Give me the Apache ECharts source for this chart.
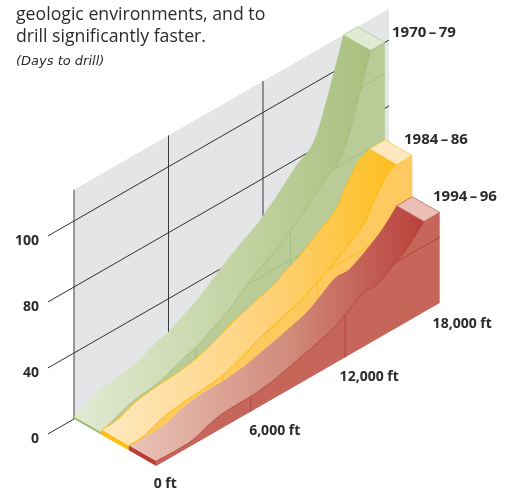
<!DOCTYPE html>
<html><head><meta charset="utf-8">
<style>html,body{margin:0;padding:0;background:#fff}#c{width:514px;height:489px}</style>
<script src="https://cdn.jsdelivr.net/npm/echarts@6/dist/echarts.min.js"></script>
</head><body><div id="c"></div>
<script>
const ribbonNames = ['1970\u2009–\u200979', '1984\u2009–\u200986', '1994\u2009–\u200996'];
const depths1970 = [0,1840,3750,5250,6000,7150,8000,9250,10500,11500,12000,12800,13500,14200,15000,15600,16500,17100,18000];
const days1970   = [1.5,8.7,12,18,20,26,30.5,40,48,53.6,57.5,64,70.7,77,82,93,120,139,139];
const depths1984 = [0,700,1300,2200,3500,4800,6000,7500,8100,9600,10900,12000,12700,13900,14900,15500,16300,17000,18000];
const days1984   = [3,3,4.5,8,10,11,13,18.5,21.5,26.6,30.8,36.5,40,48,55,65,76,80,80];
const depths1994 = [0,1100,2300,3400,4400,6000,6400,7700,11000,12000,13100,14000,15200,16100,17000,18000];
const days1994   = [3,2.5,3,6.8,8.8,9.2,9.6,11.7,20.8,26,32.7,33,39.7,46,55,55];
const tickValues = [0,40,80,120];
const tickLabels = ['0','40','80','100'];
const depthTicks = [0,6000,12000,18000];
const depthLabels = ['0 ft','6,000 ft','12,000 ft','18,000 ft'];
const titleLines = ['geologic environments, and to','drill significantly faster.'];
const unitLabel = '(Days to drill)';
const wallTop = 139, wallEnd = 20000, tickStart = -1650;

const ribbons = [
 {d:depths1970,v:days1970,side:'#b9cb97',stroke:'#a5bd7b',back:null,cap:'#a3bd78',top:'#e0e9d2',
  grad:['#e2ead3','#c3d3a3','#a8c07e'],lx:392,ly:33},
 {d:depths1984,v:days1984,side:'#fec95e',stroke:'#fdbe14',back:'#fdbe14',cap:'#fdbe10',top:'#fde7c0',
  grad:['#fee9c0','#fed27c','#fdbe1e'],lx:404,ly:140},
 {d:depths1994,v:days1994,side:'#c6655a',stroke:'#b8403c',back:null,cap:'#bb3b35',top:'#e9bfb6',
  grad:['#eac4b8','#d08a7a','#b93f3a'],lx:433,ly:197}
];
const WX=27.4, WY=15.67, SHEAR=54.3/6000;
function project(api,d,v,w){
  const c=api.coord([d,v]);
  return [c[0]+w*WX, c[1]-d*SHEAR+w*WY];
}
function spline(pts,segs){
  const out=[pts[0]];
  for(let i=0;i<pts.length-1;i++){
    const p0=pts[Math.max(i-1,0)],p1=pts[i],p2=pts[i+1],p3=pts[Math.min(i+2,pts.length-1)];
    for(let s=1;s<=segs;s++){
      const t=s/segs,t2=t*t,t3=t2*t;
      out.push([0,1].map(k=>0.5*(2*p1[k]+(p2[k]-p0[k])*t+(2*p0[k]-5*p1[k]+4*p2[k]-p3[k])*t2+(3*p1[k]-p0[k]-3*p2[k]+p3[k])*t3)));
    }
  }
  return out;
}
function profile(r){
  const n=r.d.length;
  const raw=r.d.slice(0,n-1).map((d,i)=>[d,r.v[i]]);
  const s=spline(raw,5);
  s.push([r.d[n-1],r.v[n-1]]);
  return s;
}
function renderWall(params,api){
  const ch=[];
  const poly=[project(api,0,0,0),project(api,wallEnd,0,0),project(api,wallEnd,wallTop,0),project(api,0,wallTop,0)];
  ch.push({type:'polygon',shape:{points:poly},style:{fill:'#e4e5e7'}});
  depthTicks.slice(0,3).forEach(d=>{
    const a=project(api,d,0,0),b=project(api,d,wallTop,0);
    ch.push({type:'line',shape:{x1:a[0],y1:a[1],x2:b[0],y2:b[1]},style:{stroke:'#3a3a3c',lineWidth:1}});
  });
  tickValues.forEach((v,ti)=>{
    const a=project(api,tickStart,v,0),b=project(api,v===0?0:wallEnd,v,0);
    ch.push({type:'line',shape:{x1:a[0],y1:a[1],x2:b[0],y2:b[1]},style:{stroke:'#2f2f31',lineWidth:1}});
    ch.push({type:'text',style:{text:tickLabels[ti],x:a[0]-9,y:a[1]+5,align:'right',verticalAlign:'middle',
      font:'bold 14px "Open Sans"',fill:'#2b2b2d'}});
  });
  return {type:'group',children:ch};
}
function renderRibbon(params,api){
  const i=api.value(0), r=ribbons[i];
  const prof=profile(r);
  const back=prof.map(p=>project(api,p[0],p[1],i));
  const front=prof.map(p=>project(api,p[0],p[1],i+1));
  const dEnd=r.d[r.d.length-1], vTop=r.v[r.v.length-1];
  const ch=[];
  ch.push({type:'polygon',shape:{points:front.concat([project(api,dEnd,0,i+1),project(api,0,0,i+1)])},
    style:{fill:r.side}});
  tickValues.slice(1).forEach(v=>{
    let start=null;
    for(let k=1;k<prof.length;k++){
      if(prof[k-1][1]<v && prof[k][1]>=v){
        const t=(v-prof[k-1][1])/(prof[k][1]-prof[k-1][1]);
        start=prof[k-1][0]+t*(prof[k][0]-prof[k-1][0]);break;
      }
    }
    if(start===null || vTop<=v) return;
    const a=project(api,start,v,i+1),b=project(api,dEnd,v,i+1);
    ch.push({type:'line',shape:{x1:a[0],y1:a[1],x2:b[0],y2:b[1]},style:{stroke:r.stroke,lineWidth:1}});
  });
  depthTicks.slice(1,3).forEach(d=>{
    let val=0;
    for(let k=1;k<prof.length;k++){
      if(prof[k][0]>=d){const t=(d-prof[k-1][0])/(prof[k][0]-prof[k-1][0]);val=prof[k-1][1]+t*(prof[k][1]-prof[k-1][1]);break;}
    }
    const a=project(api,d,0,i+1),b=project(api,d,val,i+1);
    ch.push({type:'line',shape:{x1:a[0],y1:a[1],x2:b[0],y2:b[1]},style:{stroke:r.stroke,lineWidth:1}});
  });
  const k=prof.length-1;
  const backS=back.slice(0,k), frontS=front.slice(0,k);
  ch.push({type:'polygon',shape:{points:backS.concat(frontS.slice().reverse())},
    style:{fill:{type:'linear',x:0,y:0,x2:1,y2:0,colorStops:[{offset:0,color:r.grad[0]},{offset:0.55,color:r.grad[1]},{offset:1,color:r.grad[2]}]}}});
  ch.push({type:'polyline',shape:{points:front.slice(0,k)},style:{fill:null,stroke:r.stroke,lineWidth:1}});
  if(r.back) ch.push({type:'polyline',shape:{points:back.slice(0,k)},style:{fill:null,stroke:r.back,lineWidth:1}});
  ch.push({type:'polygon',shape:{points:[back[k-1],back[k],front[k],front[k-1]]},
    style:{fill:r.top,stroke:r.stroke,lineWidth:0.6}});
  ch.push({type:'polygon',shape:{points:[project(api,0,0,i),project(api,0,0,i+1),front[0],back[0]]},style:{fill:r.cap}});
  ch.push({type:'text',style:{text:ribbonNames[i],x:r.lx,y:r.ly,verticalAlign:'middle',font:'bold 15px "Open Sans"',fill:'#2b2b2d'}});
  return {type:'group',children:ch};
}
function renderFrontLine(params,api){
  const i=api.value(0), r=ribbons[i];
  const prof=profile(r);
  const pts=prof.slice(0,prof.length-1).map(p=>project(api,p[0],p[1],i+1));
  return {type:'polyline',shape:{points:pts},style:{fill:null,stroke:r.stroke,lineWidth:1}};
}
const depthOffsets=[[9,18],[24,19],[24,20],[22.5,21]];
function renderDepthLabel(params,api){
  const i=api.value(0);
  const p=project(api,depthTicks[i],0,3);
  return {type:'text',style:{text:depthLabels[i],x:p[0]+depthOffsets[i][0],y:p[1]+depthOffsets[i][1],align:'center',verticalAlign:'middle',
    font:'bold 14px "Open Sans"',fill:'#2b2b2d'}};
}
const chart=echarts.init(document.getElementById('c'),null,{renderer:'canvas'});
chart.setOption({
  animation:false,
  grid:{left:74,width:315,top:23,height:396},
  xAxis:{type:'value',min:0,max:wallEnd,show:false},
  yAxis:{type:'value',min:0,max:240,show:false},
  graphic:[
    {type:'text',x:36,y:-18,style:{text:'g',font:'17.7px "Open Sans"',fill:'#2b2b2d'}},
    {type:'text',x:16,y:6,style:{text:titleLines[0],font:'17.7px "Open Sans"',fill:'#2b2b2d'}},
    {type:'text',x:16,y:28,style:{text:titleLines[1],font:'17.7px "Open Sans"',fill:'#2b2b2d'}},
    {type:'text',x:16,y:55,style:{text:unitLabel,font:'italic 13px "DejaVu Sans"',fill:'#2b2b2d'}}
  ],
  series:[
    {type:'custom',silent:true,clip:false,renderItem:renderWall,data:[[0,0]],encode:{x:0,y:1}},
    {type:'custom',silent:true,clip:false,renderItem:renderRibbon,data:ribbons.map((r,i)=>[i,0]),encode:{x:0,y:1}},
    {type:'custom',silent:true,clip:false,renderItem:renderFrontLine,data:[[1,0]],encode:{x:0,y:1}},
    {type:'custom',silent:true,clip:false,renderItem:renderDepthLabel,data:depthTicks.map((d,i)=>[i,0]),encode:{x:0,y:1}}
  ]
});
</script></body></html>
